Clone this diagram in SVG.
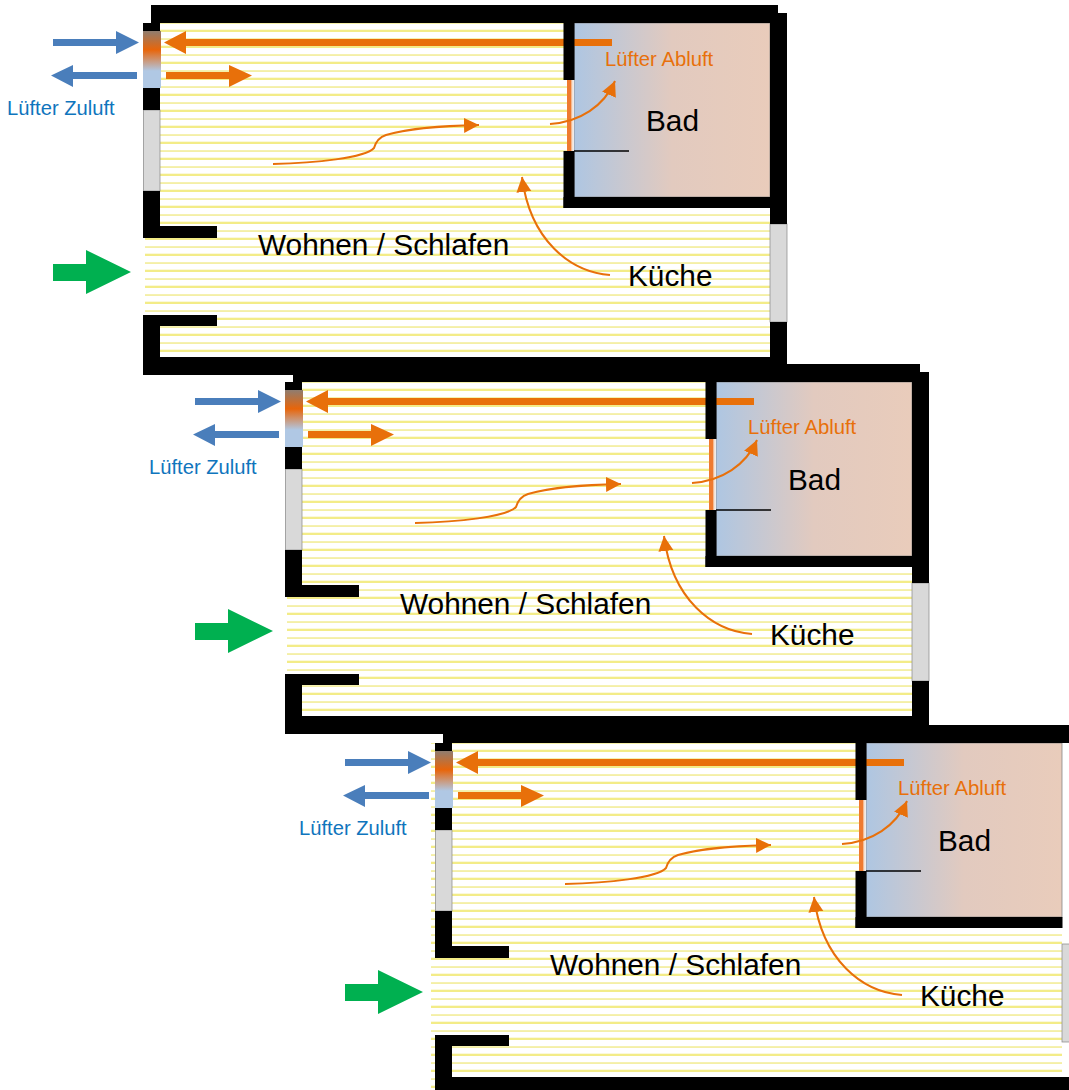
<svg xmlns="http://www.w3.org/2000/svg" width="1069" height="1090" viewBox="0 0 1069 1090">
<style>
text{font-family:"Liberation Sans",Arial,sans-serif}
.big{font-size:29.8px;fill:#000}
.zu{font-size:20.2px;fill:#0f75bd}
.ab{font-size:20.3px;fill:#e8700a}
.win{fill:#d9d9d9;stroke:#8c8c8c;stroke-width:.75}
.thin{fill:none;stroke:#e8700a;stroke-width:2;marker-end:url(#head)}
.o{fill:#e8700a}.b{fill:#4a7ebb}.g{fill:#00b050}
.solid{fill:#000;stroke:none}
</style>
<defs>
<pattern id="hatch" patternUnits="userSpaceOnUse" width="16" height="16">
<rect width="16" height="16" fill="#fff"/>
<rect y="6.300" width="16" height="1.500" fill="#f2ec90"/>
<rect y="13.700" width="16" height="2.600" fill="#f3ec88"/>
</pattern>
<linearGradient id="bad" x1="0" x2="1" y1="0" y2="0">
<stop offset="0" stop-color="#aec6e2"/><stop offset=".5" stop-color="#e2cabf"/><stop offset="1" stop-color="#e9ccbb"/>
</linearGradient>
<linearGradient id="fan" x1="0" x2="0" y1="0" y2="1">
<stop offset="0" stop-color="#8f7d70"/><stop offset=".33" stop-color="#e8650a"/><stop offset=".7" stop-color="#b0c8e4"/><stop offset="1" stop-color="#b0c8e4"/>
</linearGradient>
<linearGradient id="door" x1="0" x2="1" y1="0" y2="0">
<stop offset="0" stop-color="#ee7a30"/><stop offset=".5" stop-color="#ee7a30"/><stop offset=".72" stop-color="#f6dcc8"/><stop offset="1" stop-color="#eef0f4"/>
</linearGradient>
<marker id="head" markerUnits="userSpaceOnUse" markerWidth="17" markerHeight="17" refX="15" refY="7.500" orient="auto">
<path d="M0 0L15 7.500L0 15Z" fill="#e8700a"/>
</marker>
<g id="plan">
<path d="M160 23H770V357H160V315H145V238H160Z" fill="url(#hatch)"/>
<rect x="574" y="23" width="196" height="174" fill="url(#bad)" stroke="#808080" stroke-width=".75"/>
<rect x="567" y="80" width="7" height="71" fill="url(#door)"/>
<rect class="win" x="143.400" y="110" width="16.600" height="81"/>
<rect class="win" x="770" y="224" width="17" height="98"/>
<rect x="143" y="31" width="18" height="57" fill="url(#fan)"/>
</g>
<g id="shell">
<rect x="151" y="5" width="627" height="18"/>
<rect x="143" y="357" width="644" height="18"/>
<rect x="143" y="315" width="17" height="60"/>
<rect x="143" y="315" width="74" height="11"/>
<rect x="143" y="191" width="17" height="47"/>
<rect x="143" y="226" width="74" height="12"/>
<rect x="143" y="88" width="17" height="22"/>
<rect x="143" y="23" width="17" height="8"/>
<rect x="563.500" y="23" width="11" height="57"/>
<rect x="563.500" y="151" width="11" height="57"/>
<rect x="563.500" y="197" width="207" height="11"/>
</g>
<g id="eastwall">
<rect x="770" y="13" width="17" height="211"/>
<rect x="770" y="322" width="17" height="53"/>
</g>
<g id="flows">
<path class="b" d="M53 39H116V31L139 42.500L116 54V46H53Z"/>
<path class="b" d="M137 72H73V65L51 75.500L73 87V79H137Z"/>
<path class="o" d="M612 39H186V31L164 42.500L186 54V46H612Z"/>
<path class="o" d="M166 72H229V65L252 75.500L229 87V79H166Z"/>
<path class="g" d="M53 264H86V250L131 272L86 294V281H53Z"/>
<path class="thin" d="M273 164C315 163 365 158 374 148C376 141 380 137 386 135C410 128 440 126 479 125"/>
<path class="thin" d="M550 124C580 122 604 106 615 81"/>
<path class="thin" d="M610 275C570 272 530 240 522 177"/>
</g>
</defs>
<g id="wohnung-1">
<use href="#plan"/>
<g id="connectors-1"><use href="#flows"/></g>
<use href="#shell" class="solid"/><use href="#eastwall" class="solid"/>
<line x1="574" x2="629" y1="151" y2="151" stroke="#000" stroke-width="1.500"/>
<g id="label-1"><text class="zu" x="7" y="114.800">Lüfter Zuluft</text><text class="ab" x="605" y="65.500">Lüfter Abluft</text><text class="big" x="646" y="130.500">Bad</text><text class="big" x="258" y="255">Wohnen / Schlafen</text><text class="big" x="628" y="285.500">Küche</text></g>
</g>
<g id="wohnung-2" transform="translate(142,359)">
<use href="#plan"/>
<g id="connectors-2"><use href="#flows"/></g>
<use href="#shell" class="solid"/><use href="#eastwall" class="solid"/>
<line x1="574" x2="629" y1="151" y2="151" stroke="#000" stroke-width="1.500"/>
<g id="label-2"><text class="zu" x="7" y="114.800">Lüfter Zuluft</text><text class="ab" x="606" y="75">Lüfter Abluft</text><text class="big" x="646" y="130.500">Bad</text><text class="big" x="258" y="255">Wohnen / Schlafen</text><text class="big" x="628" y="285.500">Küche</text></g>
</g>
<g id="wohnung-3" transform="translate(292,720)">
<rect x="139" y="23" width="21" height="350" fill="url(#hatch)"/>
<use href="#plan"/>
<g id="connectors-3"><use href="#flows"/></g>
<use href="#shell" class="solid"/>
<line x1="574" x2="629" y1="151" y2="151" stroke="#000" stroke-width="1.500"/>
<g id="label-3"><text class="zu" x="7" y="114.800">Lüfter Zuluft</text><text class="ab" x="606" y="75">Lüfter Abluft</text><text class="big" x="646" y="130.500">Bad</text><text class="big" x="258" y="255">Wohnen / Schlafen</text><text class="big" x="628" y="285.500">Küche</text></g>
</g>
</svg>
